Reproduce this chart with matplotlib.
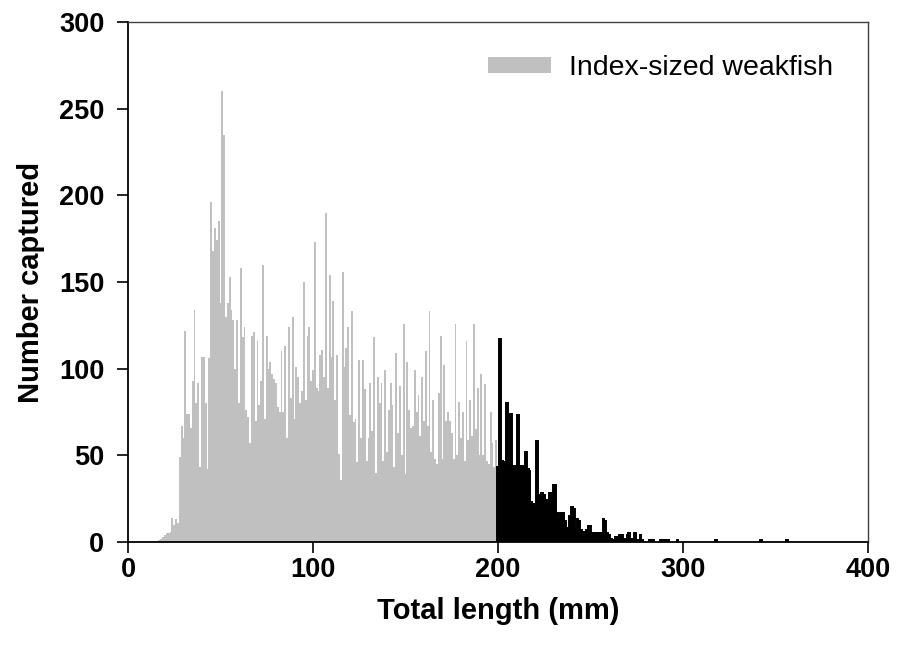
import numpy as np
import matplotlib
matplotlib.use("Agg")
import matplotlib.pyplot as plt

plt.rcParams["font.family"] = ["Liberation Sans", "DejaVu Sans"]

# grey bars: index-sized fish, 1 mm classes from 17 to 199 mm
index_start = 17
index_counts = [
    1, 2, 3, 4, 5, 5, 6, 14, 10, 13,            # 17-26
    11, 49, 67, 60, 122, 74, 74, 66, 93, 134,   # 27-36
    80, 92, 43, 107, 107, 80, 42, 106, 196, 168,  # 37-46
    181, 174, 185, 138, 260, 235, 130, 138, 153, 134,  # 47-56
    128, 100, 128, 80, 158, 118, 124, 76, 72, 57,   # 57-66
    119, 121, 70, 116, 79, 93, 160, 71, 119, 100,   # 67-76
    104, 97, 94, 92, 78, 75, 110, 75, 113, 60,      # 77-86
    124, 83, 130, 71, 101, 95, 80, 87, 150, 82,     # 87-96
    119, 124, 93, 99, 173, 89, 87, 108, 111, 95,    # 97-106
    190, 89, 154, 107, 139, 82, 108, 51, 36, 156,   # 107-116
    101, 112, 124, 73, 133, 69, 71, 46, 105, 60,    # 117-126
    105, 88, 47, 60, 92, 64, 118, 40, 95, 80,       # 127-136
    92, 47, 99, 52, 76, 92, 79, 43, 109, 63,        # 137-146
    90, 50, 126, 39, 104, 76, 66, 67, 99, 75,       # 147-156
    85, 61, 95, 70, 110, 67, 133, 52, 82, 48,       # 157-166
    45, 86, 119, 48, 102, 70, 75, 70, 63, 48,       # 167-176
    126, 50, 81, 60, 75, 47, 116, 59, 82, 61,       # 177-186
    126, 65, 89, 50, 97, 50, 91, 47, 45, 75,        # 187-196
    57, 43, 59,                                     # 197-199
]

# black bars: larger fish, 1 mm classes from 200 mm
large_start = 200
large_counts = [
    43, 117, 47, 46, 45, 80, 44, 74, 44, 42,    # 200-209
    44, 73, 44, 43, 44, 52, 42, 41, 23, 22,     # 210-219
    20, 58, 27, 22, 28, 27, 24, 22, 28, 24,     # 220-229
    33, 33, 17, 13, 17, 17, 12, 8, 8, 15,       # 230-239
    20, 19, 7, 13, 12, 7, 6, 6, 7, 9,           # 240-249
    9, 5, 5, 5, 5, 5, 5, 13, 12, 5,             # 250-259
    4, 2, 1, 1, 3, 1, 4, 4, 1, 2,               # 260-269
    4, 5, 2, 1, 5, 1, 1, 4, 1, 0,               # 270-279
    0, 0, 1, 1, 1, 0, 0, 0, 1, 1,               # 280-289
    1, 1, 1, 0, 0, 0, 0, 1,                     # 290-297
]
# isolated single fish far out on the tail
tail_lengths = [318, 342, 356]
tail_counts = [1, 1, 1]

GREY = "#c0c0c0"

index_x = np.arange(index_start, index_start + len(index_counts))
large_x = np.arange(large_start, large_start + len(large_counts))

fig = plt.figure(figsize=(8.98, 6.52), dpi=100)
ax = fig.add_axes([0.1425, 0.1687, 0.8241, 0.7976])

ax.bar(index_x, index_counts, width=1.0, color=GREY, edgecolor="none",
       label="Index-sized weakfish")
mask = np.array(large_counts) > 0
ax.bar(large_x[mask], np.array(large_counts)[mask], width=1.0, color="black",
       edgecolor="black", linewidth=1.4)
ax.bar(tail_lengths, tail_counts, width=1.0, color="black",
       edgecolor="black", linewidth=1.4)

ax.set_xlim(0, 400)
ax.set_ylim(0, 300)
ax.set_xticks([0, 100, 200, 300, 400])
ax.set_yticks([0, 50, 100, 150, 200, 250, 300])

ax.tick_params(direction="out", length=8, width=1.2, labelsize=19.5)
ax.tick_params(axis="y", pad=9)
ax.tick_params(axis="x", pad=3)
for lab in ax.get_xticklabels() + ax.get_yticklabels():
    lab.set_fontweight("bold")

for side in ["left", "bottom"]:
    ax.spines[side].set_linewidth(1.3)
    ax.spines[side].set_color("black")
for side in ["top", "right"]:
    ax.spines[side].set_linewidth(1.0)
    ax.spines[side].set_color("#404040")

ax.set_xlabel("Total length (mm)", fontsize=21, fontweight="bold", labelpad=10)
ax.set_ylabel("Number captured", fontsize=21, fontweight="bold", labelpad=10)

ax.legend(loc="upper right", frameon=False, fontsize=20.5,
          handlelength=2.2, handleheight=0.5, handletextpad=0.65,
          bbox_to_anchor=(0.988, 0.985))

fig.savefig("out.png", dpi=100)
